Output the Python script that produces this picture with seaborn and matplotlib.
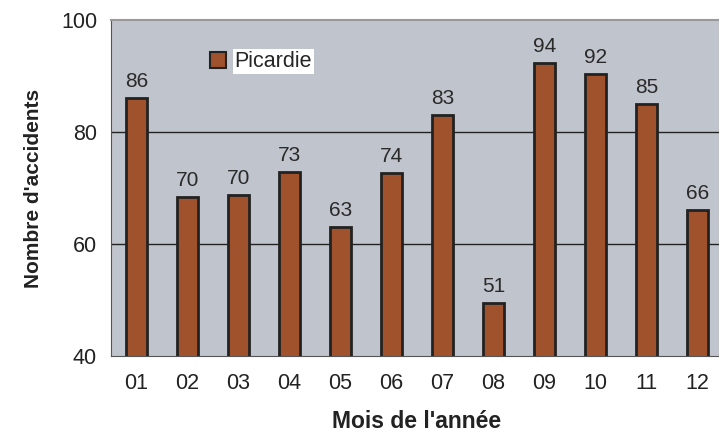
"""Monthly accident counts for Picardie, bar chart with value labels."""

import matplotlib
matplotlib.use("Agg")
import matplotlib.pyplot as plt
import seaborn as sns
from matplotlib.patches import Patch

months = ["01", "02", "03", "04", "05", "06", "07", "08", "09", "10", "11", "12"]
# bar heights as drawn in the picture
heights = [86.0, 68.4, 68.8, 72.9, 63.0, 72.7, 83.0, 49.4, 92.3, 90.4, 85.0, 66.0]
# printed labels above the bars
value_labels = ["86", "70", "70", "73", "63", "74", "83", "51", "94", "92", "85", "66"]
yticks = [40, 60, 80, 100]

BAR = "#a0522d"
BG = "#c0c4cc"

sns.set_style("white")
plt.rcParams["font.family"] = ["Liberation Sans", "DejaVu Sans"]

fig = plt.figure(figsize=(7.19, 4.32), dpi=100)
ax = fig.add_axes([111 / 719, 1 - 356 / 432, 612 / 719, 336 / 432])
ax.set_facecolor(BG)

sns.barplot(x=months, y=heights, color=BAR, width=0.42, edgecolor="#222222",
            linewidth=2, saturation=1, ax=ax, zorder=3)

for i, (h, lab) in enumerate(zip(heights, value_labels)):
    ax.annotate(lab, (i, h), xytext=(0, 5), textcoords="offset points",
                ha="center", va="bottom", fontsize=15, color="#2a2a2a")

ax.set_ylim(40, 100)
ax.set_xlim(-0.5, 11.5)
ax.set_yticks(yticks)
ax.tick_params(axis="y", labelsize=15.5, length=6, width=1, color="#444444", pad=4,
               labelcolor="#222222")
ax.set_xticks(range(len(months)))
ax.set_xticks([i - 0.5 for i in range(len(months) + 1)], minor=True)
ax.tick_params(axis="x", which="major", length=0, labelsize=15.5, pad=12,
               labelcolor="#222222")
ax.tick_params(axis="x", which="minor", length=6, width=1, color="#444444")

for y in [60, 80]:
    ax.axhline(y, color="#222222", linewidth=1, zorder=1)

ax.spines["right"].set_visible(False)
ax.spines["top"].set_color("#999999")
ax.spines["top"].set_linewidth(1.5)
ax.spines["left"].set_color("#555555")
ax.spines["bottom"].set_color("#555555")

ax.set_ylabel("Nombre d'accidents", fontsize=15, fontweight="bold", labelpad=13,
              color="#222222")
ax.set_xlabel("Mois de l'année", fontsize=16.5, fontweight="bold", labelpad=12,
              color="#222222")

leg = ax.legend(handles=[Patch(facecolor=BAR, edgecolor="#222222", linewidth=1.5)],
                labels=["Picardie"], frameon=False, fontsize=15.5,
                loc="upper left", bbox_to_anchor=(0.13, 0.965),
                handlelength=0.75, handleheight=0.75, handletextpad=0.4)
leg.get_texts()[0].set_bbox(dict(facecolor="white", edgecolor="none", pad=1.5))

fig.savefig("out.png", dpi=100)
